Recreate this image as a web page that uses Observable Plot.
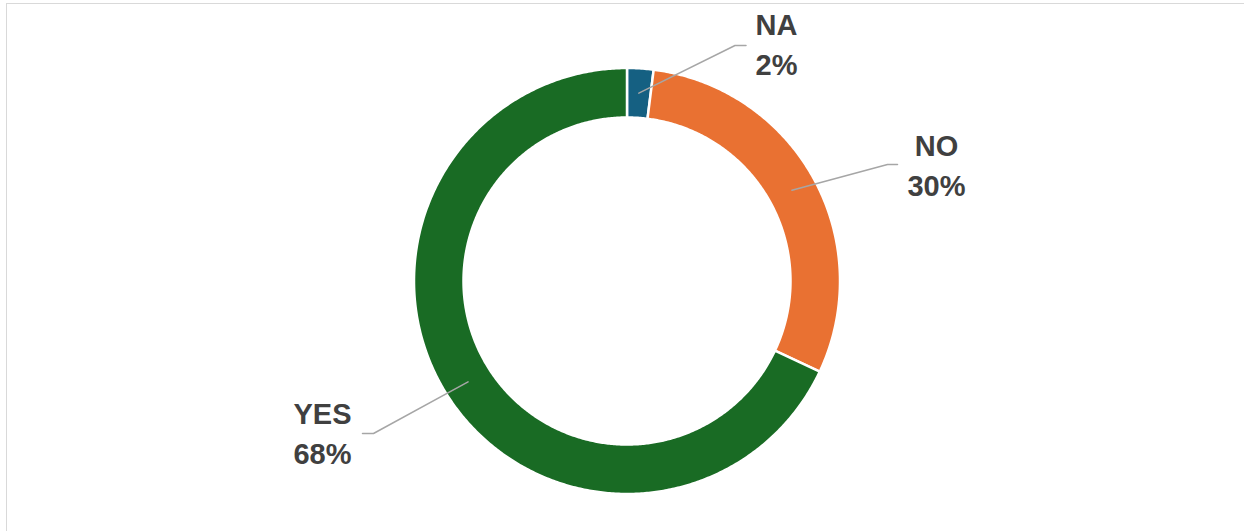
<!DOCTYPE html>
<html>
<head>
<meta charset="utf-8">
<script src="https://cdn.jsdelivr.net/npm/d3@7"></script>
<script src="https://cdn.jsdelivr.net/npm/@observablehq/plot@0.6"></script>
<style>
  html, body { margin: 0; padding: 0; background: #fff; overflow: hidden; }
  #wrap { position: relative; width: 1244px; height: 531px; }
  #frame { position: absolute; left: 6px; top: 3px; width: 1300px; height: 600px;
           border: 1.5px solid #d9d9d9; pointer-events: none; box-sizing: border-box; }
  #chart { position: absolute; left: 0; top: 0; }
</style>
</head>
<body>
<div id="wrap"><div id="chart"></div><div id="frame"></div></div>
<script>
// ---- data ----
const categories = ["NA", "NO", "YES"];
const shares = [2, 30, 68];            // percent
const labels = ["2%", "30%", "68%"];
const colors = ["#156082", "#E97132", "#196B24"];

// ---- layout (pixels) ----
const W = 1244, H = 531;
const cx = 626.5, cy = 280.5, R = 213, Rin = 163.5;
const innerFrac = Rin / R, midFrac = (R + Rin) / 2 / R;
// leader elbow / end and label centre offsets from the centre, in px
const labelLayout = {
  NA:  {elbow: [108, -235.5], end: [119, -235.5], text: [149.5, -238.5]},
  NO:  {elbow: [260.5, -116.5], end: [270.5, -116.5], text: [309.5, -117.5]},
  YES: {elbow: [-253.5, 152.5], end: [-264.5, 152.5], text: [-304.5, 150.5]}
};

const pie = d3.pie().sort(null).value(d => d)(shares);
const step = Math.PI / 360;
const slicePts = [];
pie.forEach((p, i) => {
  const cat = categories[i];
  const n = Math.max(2, Math.ceil((p.endAngle - p.startAngle) / step));
  for (let k = 0; k <= n; k++) {
    const a = p.startAngle + (p.endAngle - p.startAngle) * k / n;
    slicePts.push({cat, x: Math.sin(a), y: Math.cos(a)});
  }
  for (let k = n; k >= 0; k--) {
    const a = p.startAngle + (p.endAngle - p.startAngle) * k / n;
    slicePts.push({cat, x: innerFrac * Math.sin(a), y: innerFrac * Math.cos(a)});
  }
});

const leaderPts = [];
const textPts = [];
pie.forEach((p, i) => {
  const cat = categories[i];
  const L = labelLayout[cat];
  const m = (p.startAngle + p.endAngle) / 2;
  leaderPts.push({cat, x: midFrac * Math.sin(m), y: midFrac * Math.cos(m)});
  leaderPts.push({cat, x: L.elbow[0] / R, y: -L.elbow[1] / R});
  leaderPts.push({cat, x: L.end[0] / R, y: -L.end[1] / R});
  textPts.push({cat, x: L.text[0] / R, y: -L.text[1] / R, label: cat + "\n" + labels[i]});
});

const chart = Plot.plot({
  width: W, height: H,
  margin: 0,
  x: {domain: [-1, 1], range: [cx - R, cx + R], axis: null},
  y: {domain: [-1, 1], range: [cy + R, cy - R], axis: null},
  color: {domain: categories, range: colors},
  style: {background: "transparent", fontFamily: "'Liberation Sans', Arial, sans-serif"},
  marks: [
    Plot.line(slicePts, {x: "x", y: "y", z: "cat", fill: "cat", stroke: "#ffffff",
      strokeWidth: 2.5, curve: "linear-closed"}),
    Plot.line(leaderPts, {x: "x", y: "y", z: "cat", stroke: "#a6a6a6", strokeWidth: 1.5}),
    Plot.text(textPts, {x: "x", y: "y", text: "label", fill: "#404040", fontSize: 29,
      fontWeight: "bold", lineHeight: 1.36, textAnchor: "middle", lineAnchor: "middle"})
  ]
});
document.getElementById("chart").appendChild(chart);
</script>
</body>
</html>
